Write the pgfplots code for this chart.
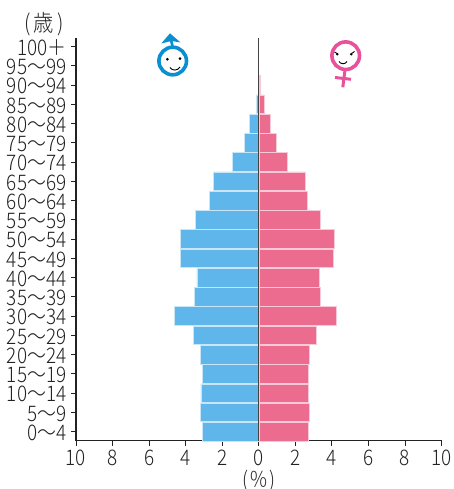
\documentclass[border=0pt]{standalone}
\usepackage{fontspec}
\setmainfont[FakeStretch=0.88]{Noto Sans CJK JP Light}
\usepackage{pgfplots}
\pgfplotsset{compat=1.18}
\definecolor{malebar}{HTML}{5FB6EB}
\definecolor{maleedge}{HTML}{C9E6F8}
\definecolor{femalebar}{HTML}{EC6C8F}
\definecolor{femaleedge}{HTML}{F8CAD7}
\definecolor{maleicon}{HTML}{0A8FD0}
\definecolor{femaleicon}{HTML}{E9519B}
\definecolor{inkc}{HTML}{222222}
\begin{document}
\begin{tikzpicture}[x=1pt,y=1pt]
\useasboundingbox (0,0) rectangle (454,489);
\begin{axis}[
    at={(76pt,48.3pt)}, anchor=south west,
    scale only axis,
    width=365.6pt, height=402.7pt,
    xmin=-10, xmax=10,
    ymin=-0.47, ymax=20.44,
    axis y line*=left, axis x line*=bottom,
    axis line style={inkc, line width=1.3pt, -},
    tick style={inkc, line width=0.9pt},
    major tick length=5pt,
    xtick={-10,-8,-6,-4,-2,0,2,4,6,8,10},
    xticklabels={10,8,6,4,2,0,2,4,6,8,10},
    xtick align=outside,
    ytick={0,...,20},
    yticklabels={0～4,5～9,10～14,15～19,20～24,25～29,30～34,35～39,40～44,45～49,50～54,55～59,60～64,65～69,70～74,75～79,80～84,85～89,90～94,95～99,100＋},
    ytick align=inside,
    ticklabel style={font=\fontsize{21.5}{21.5}\selectfont, text=inkc},
    y tick label style={inner sep=0pt, text height=14pt, text depth=0pt, xshift=-4.5pt, yshift=-1.8pt},
    x tick label style={yshift=-1pt},
    xbar, bar shift=0pt, bar width=18.6pt,
    clip=false,
]
\addplot[fill=malebar, draw=maleedge, line width=0.6pt] coordinates {
    (-3.10,0) (-3.19,1) (-3.17,2) (-3.10,3) (-3.19,4) (-3.57,5) (-4.61,6)
    (-3.53,7) (-3.39,8) (-4.30,9) (-4.30,10) (-3.48,11) (-2.70,12) (-2.50,13)
    (-1.44,14) (-0.80,15) (-0.51,16) (-0.15,17)
};
\addplot[fill=femalebar, draw=femaleedge, line width=0.6pt] coordinates {
    (2.70,0) (2.77,1) (2.70,2) (2.70,3) (2.77,4) (3.17,5) (4.26,6)
    (3.37,7) (3.30,8) (4.06,9) (4.13,10) (3.37,11) (2.68,12) (2.57,13)
    (1.58,14) (0.93,15) (0.62,16) (0.29,17) (0.10,18)
};
\draw[inkc!85, line width=0.8pt] (axis cs:0,-0.47) -- (axis cs:0,20.44);
\end{axis}
\begin{scope}[shift={(0,489)},y=-1pt,x=1pt]
  % labels
  \node[text=inkc, font=\fontsize{23}{23}\selectfont] at (44,24) {(\hspace{3pt}歳\hspace{3pt})};
  \node[text=inkc, font=\fontsize{21.5}{21.5}\selectfont] at (258.6,480.5) {(\hspace{1pt}％\hspace{1pt})};
  % male icon
  \draw[maleicon, line width=3.6pt] (172.7,61) circle (13.8);
  \draw[maleicon, line width=2.6pt] (172.7,47) -- (171,40);
  \fill[maleicon] (170,33.3) -- (180.5,42.5) -- (171.5,41) -- (161.3,43.5) -- cycle;
  \fill[black] (167.3,59.3) circle (1.5) (180,58.7) circle (1.5);
  \draw[black, line width=0.9pt] (170,67.5) .. controls (172,71) and (178,71) .. (180,67);
  % female icon
  \draw[femaleicon, line width=3.6pt] (345.7,55.7) circle (13.8);
  \draw[femaleicon, line width=3pt] (345,70) -- (342.8,87.3);
  \draw[femaleicon, line width=3pt] (335,77.5) -- (351,79.3);
  \fill[black] (337.3,54.3) circle (1.4) (351.3,54.3) circle (1.4);
  \draw[black, line width=0.9pt] (334.5,52) -- (338,54) (354.5,51.5) -- (351,54);
  \draw[black, line width=0.9pt] (339,61.5) .. controls (341,64.5) and (345,64.5) .. (347,61.5);
\end{scope}
\end{tikzpicture}
\end{document}
